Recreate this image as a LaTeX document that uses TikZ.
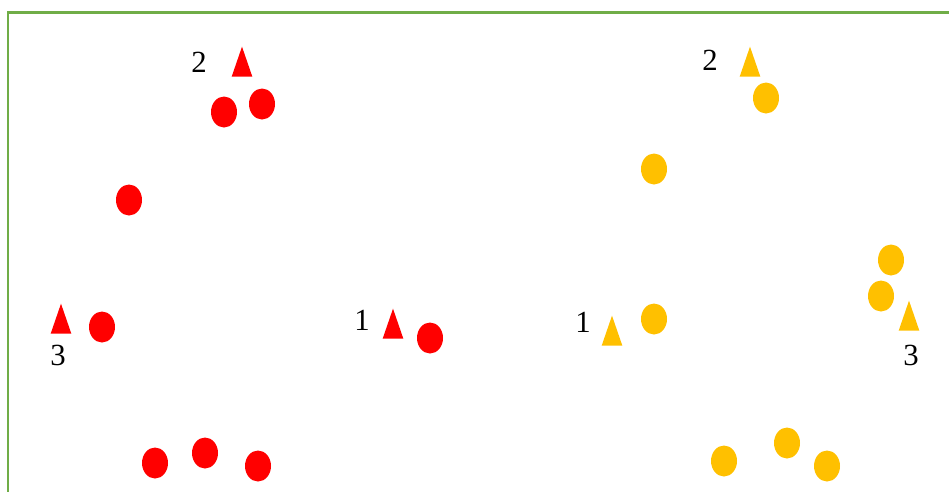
\documentclass[tikz,border=0pt]{standalone}
\usepackage{fontspec}
\setmainfont{Liberation Serif}
\usetikzlibrary{shapes.geometric,positioning}
\definecolor{redc}{HTML}{FF0000}
\definecolor{goldc}{HTML}{FFC000}
\definecolor{framec}{HTML}{70AD47}

\begin{document}
\begin{tikzpicture}[x=0.02cm,y=-0.02cm,
  dot/.style={ellipse,inner sep=0pt,minimum width=0.52cm,minimum height=0.62cm},
  tri/.style={isosceles triangle,isosceles triangle apex angle=38,
              shape border rotate=90,inner sep=0pt,minimum height=0.6cm,
              anchor=south},
  num/.style={font=\fontsize{17.5}{20}\selectfont,inner sep=0pt},
]
\useasboundingbox (0,0) rectangle (949,491);
\draw[framec,line width=0.06cm] (8,12) rectangle (980,520);

% red group
\node[tri,fill=redc] (rt2) at (242,77) {};
\node[tri,fill=redc] (rt3) at (61,334) {};
\node[tri,fill=redc] (rt1) at (393,339) {};
\node[num] (rl2) at (199,62) {2};
\node[num] (rl3) at (58,355) {3};
\node[num] (rl1) at (362,320) {1};
\node[dot,fill=redc] (ra) at (224,112) {};
\node[dot,fill=redc] (rb) at (262,104) {};
\node[dot,fill=redc] (rc) at (129,200) {};
\node[dot,fill=redc] (rd) at (102,327) {};
\node[dot,fill=redc] (re) at (430,338) {};
\node[dot,fill=redc] (rf) at (155,463) {};
\node[dot,fill=redc] (rg) at (205,453) {};
\node[dot,fill=redc] (rh) at (258,466) {};

% yellow group
\node[tri,fill=goldc] (yt2) at (750,77) {};
\node[tri,fill=goldc] (yt1) at (612,346) {};
\node[tri,fill=goldc] (yt3) at (909,331) {};
\node[num] (yl2) at (710,60) {2};
\node[num] (yl1) at (583,322) {1};
\node[num] (yl3) at (911,355) {3};
\node[dot,fill=goldc] (ya) at (766,98) {};
\node[dot,fill=goldc] (yb) at (654,169) {};
\node[dot,fill=goldc] (yc) at (654,319) {};
\node[dot,fill=goldc] (yd) at (891,260) {};
\node[dot,fill=goldc] (ye) at (881,296) {};
\node[dot,fill=goldc] (yf) at (724,461) {};
\node[dot,fill=goldc] (yg) at (787,443) {};
\node[dot,fill=goldc] (yh) at (827,466) {};
\end{tikzpicture}
\end{document}
